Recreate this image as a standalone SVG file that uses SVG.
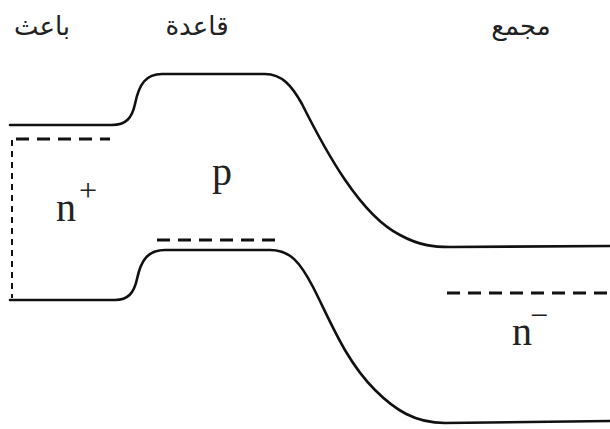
<svg xmlns="http://www.w3.org/2000/svg" width="610" height="429" viewBox="0 0 610 429">
<style>
.band{fill:none;stroke:#111;stroke-width:2.6;stroke-linecap:round}
.dash{fill:none;stroke:#111;stroke-width:3;stroke-dasharray:13,8}
.vdash{fill:none;stroke:#111;stroke-width:2;stroke-dasharray:6,5}
.ar{font-family:"DejaVu Sans",sans-serif;font-size:26px;fill:#222;text-anchor:middle}
.lbl{font-family:"Liberation Serif",serif;font-size:40px;fill:#222}
.sup{font-family:"Liberation Serif",serif;font-size:32px;fill:#222}
</style>
<rect width="610" height="429" fill="#fff"/>
<g id="titles">
<text class="ar" x="42" y="35">باعث</text>
<text class="ar" x="197" y="35">قاعدة</text>
<text class="ar" x="521" y="35">مجمع</text>
</g>
<g id="bands">
<path class="band" d="M10,125 L112,125 C126,125 132,118 135,104 C139,84 146,74 162,74 L265,74 C282,74 292,86 302,104 C325,150 360,215 400,235 C420,246 435,247 450,247 L610,246"/>
<path class="band" d="M10,300 L115,300 C128,300 134,293 137,279 C141,260 148,250 165,250 L270,250 C290,250 300,262 313,287 C330,320 345,360 375,390 C395,410 415,423 445,423 L610,421"/>
</g>
<g id="levels">
<path class="dash" d="M16,139 H110"/>
<path class="vdash" d="M12,140 V298"/>
<path class="dash" d="M157,240 H280"/>
<path class="dash" d="M447,293 H610"/>
</g>
<g id="labels">
<text class="lbl" x="56" y="221">n</text>
<text class="sup" x="79" y="201">+</text>
<text class="lbl" x="212" y="185">p</text>
<text class="lbl" x="512" y="345">n</text>
<text class="sup" x="530" y="326">−</text>
</g>
</svg>
